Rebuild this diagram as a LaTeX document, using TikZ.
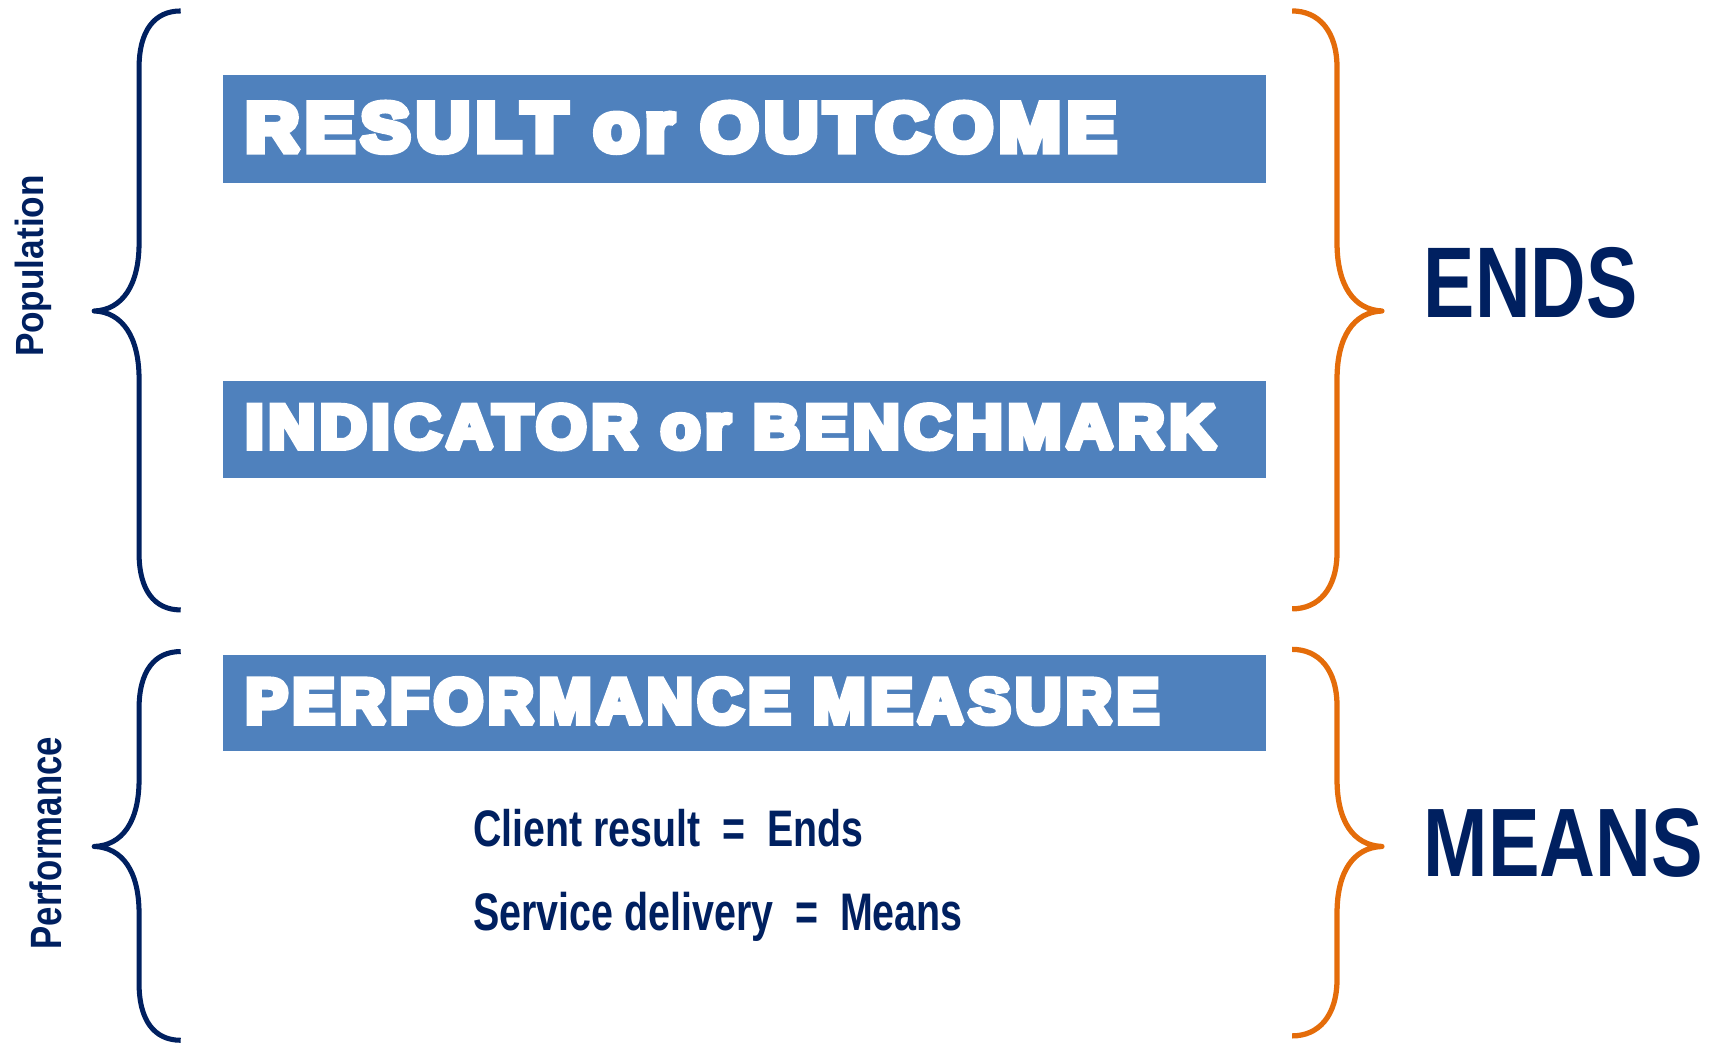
\documentclass[tikz,border=0pt]{standalone}
\usepackage{fontspec}
\setmainfont{Liberation Sans}
\newfontfamily\boldfont{Liberation Sans Bold}
\newfontfamily\heavyfont[FakeBold=10, LetterSpace=8]{Liberation Sans Bold}
\usepackage{graphicx}
\definecolor{navy}{RGB}{0,32,96}
\definecolor{boxblue}{RGB}{79,129,189}
\definecolor{brorange}{RGB}{228,108,10}
\newcommand\miterfix{\special{pdf:literal direct 1.5 M}}
\tikzset{
  bluebox/.style={fill=boxblue, draw=none, inner sep=0pt, anchor=north west},
  boxtext/.style={text=white, inner sep=0pt, anchor=base west, font=\heavyfont},
  navytext/.style={text=navy, inner sep=0pt, anchor=base west, font=\boldfont},
  sidelabel/.style={text=navy, inner sep=0pt, anchor=base, rotate=90, font=\boldfont},
  navybrace/.style={draw=navy, line width=4.6pt, line join=round},
  orangebrace/.style={draw=brorange, line width=4.8pt, line join=round},
}
\begin{document}
\begin{tikzpicture}[x=1pt, y=-1pt]
\useasboundingbox (0,0) rectangle (1568,952);
% boxes
\node[bluebox, minimum width=953pt, minimum height=99pt] (box1) at (203,68) {};
\node[bluebox, minimum width=953pt, minimum height=88pt] (box2) at (203,348) {};
\node[bluebox, minimum width=953pt, minimum height=88pt] (box3) at (203,598) {};
% box texts (heavy)
\node[boxtext] (res) at (224,138) {\miterfix\resizebox{795pt}{44pt}{RESULT or OUTCOME}};
\node[boxtext] (ind) at (224,409) {\miterfix\resizebox{886pt}{39pt}{INDICATOR or BENCHMARK}};
\node[boxtext] (perf) at (224,660) {\miterfix\resizebox{834pt}{40pt}{PERFORMANCE MEASURE}};
% right labels
\node[navytext] (ends) at (1300,290) {\resizebox{195pt}{64pt}{ENDS}};
\node[navytext] (means) at (1300,800) {\resizebox{255pt}{62pt}{MEANS}};
% lower lines
\node[navytext] (cl) at (432,773) {\resizebox{356pt}{34pt}{Client result\ \ =\ \ Ends}};
\node[navytext] (sv) at (432,850) {\resizebox{447pt}{35pt}{Service delivery\ \ =\ \ Means}};
% side labels
\node[sidelabel] (pop) at (40,243) {\resizebox{166pt}{26pt}{Population}};
\node[sidelabel] (perflab) at (56,770) {\resizebox{194pt}{29pt}{Performance}};
% left braces
\draw[navybrace] (165,10) .. controls (141,10) and (127,28) .. (127,62) -- (127,222)
  .. controls (127,260) and (112,283) .. (86,284)
  .. controls (112,285) and (127,308) .. (127,346) -- (127,505)
  .. controls (127,539) and (141,557) .. (165,557);
\draw[navybrace] (165,595) .. controls (141,595) and (127,613) .. (127,647) -- (127,712)
  .. controls (127,750) and (112,772) .. (86,773)
  .. controls (112,774) and (127,796) .. (127,834) -- (127,898)
  .. controls (127,932) and (141,950) .. (165,950);
% right braces
\draw[orangebrace] (1180,10) .. controls (1204,10) and (1221,28) .. (1221,62) -- (1221,222)
  .. controls (1221,260) and (1236,283) .. (1262,284)
  .. controls (1236,285) and (1221,308) .. (1221,346) -- (1221,504)
  .. controls (1221,538) and (1204,556) .. (1180,556);
\draw[orangebrace] (1180,593) .. controls (1204,593) and (1221,611) .. (1221,645) -- (1221,712)
  .. controls (1221,750) and (1236,772) .. (1262,773)
  .. controls (1236,774) and (1221,796) .. (1221,834) -- (1221,894)
  .. controls (1221,928) and (1204,946) .. (1180,946);
\end{tikzpicture}
\end{document}
